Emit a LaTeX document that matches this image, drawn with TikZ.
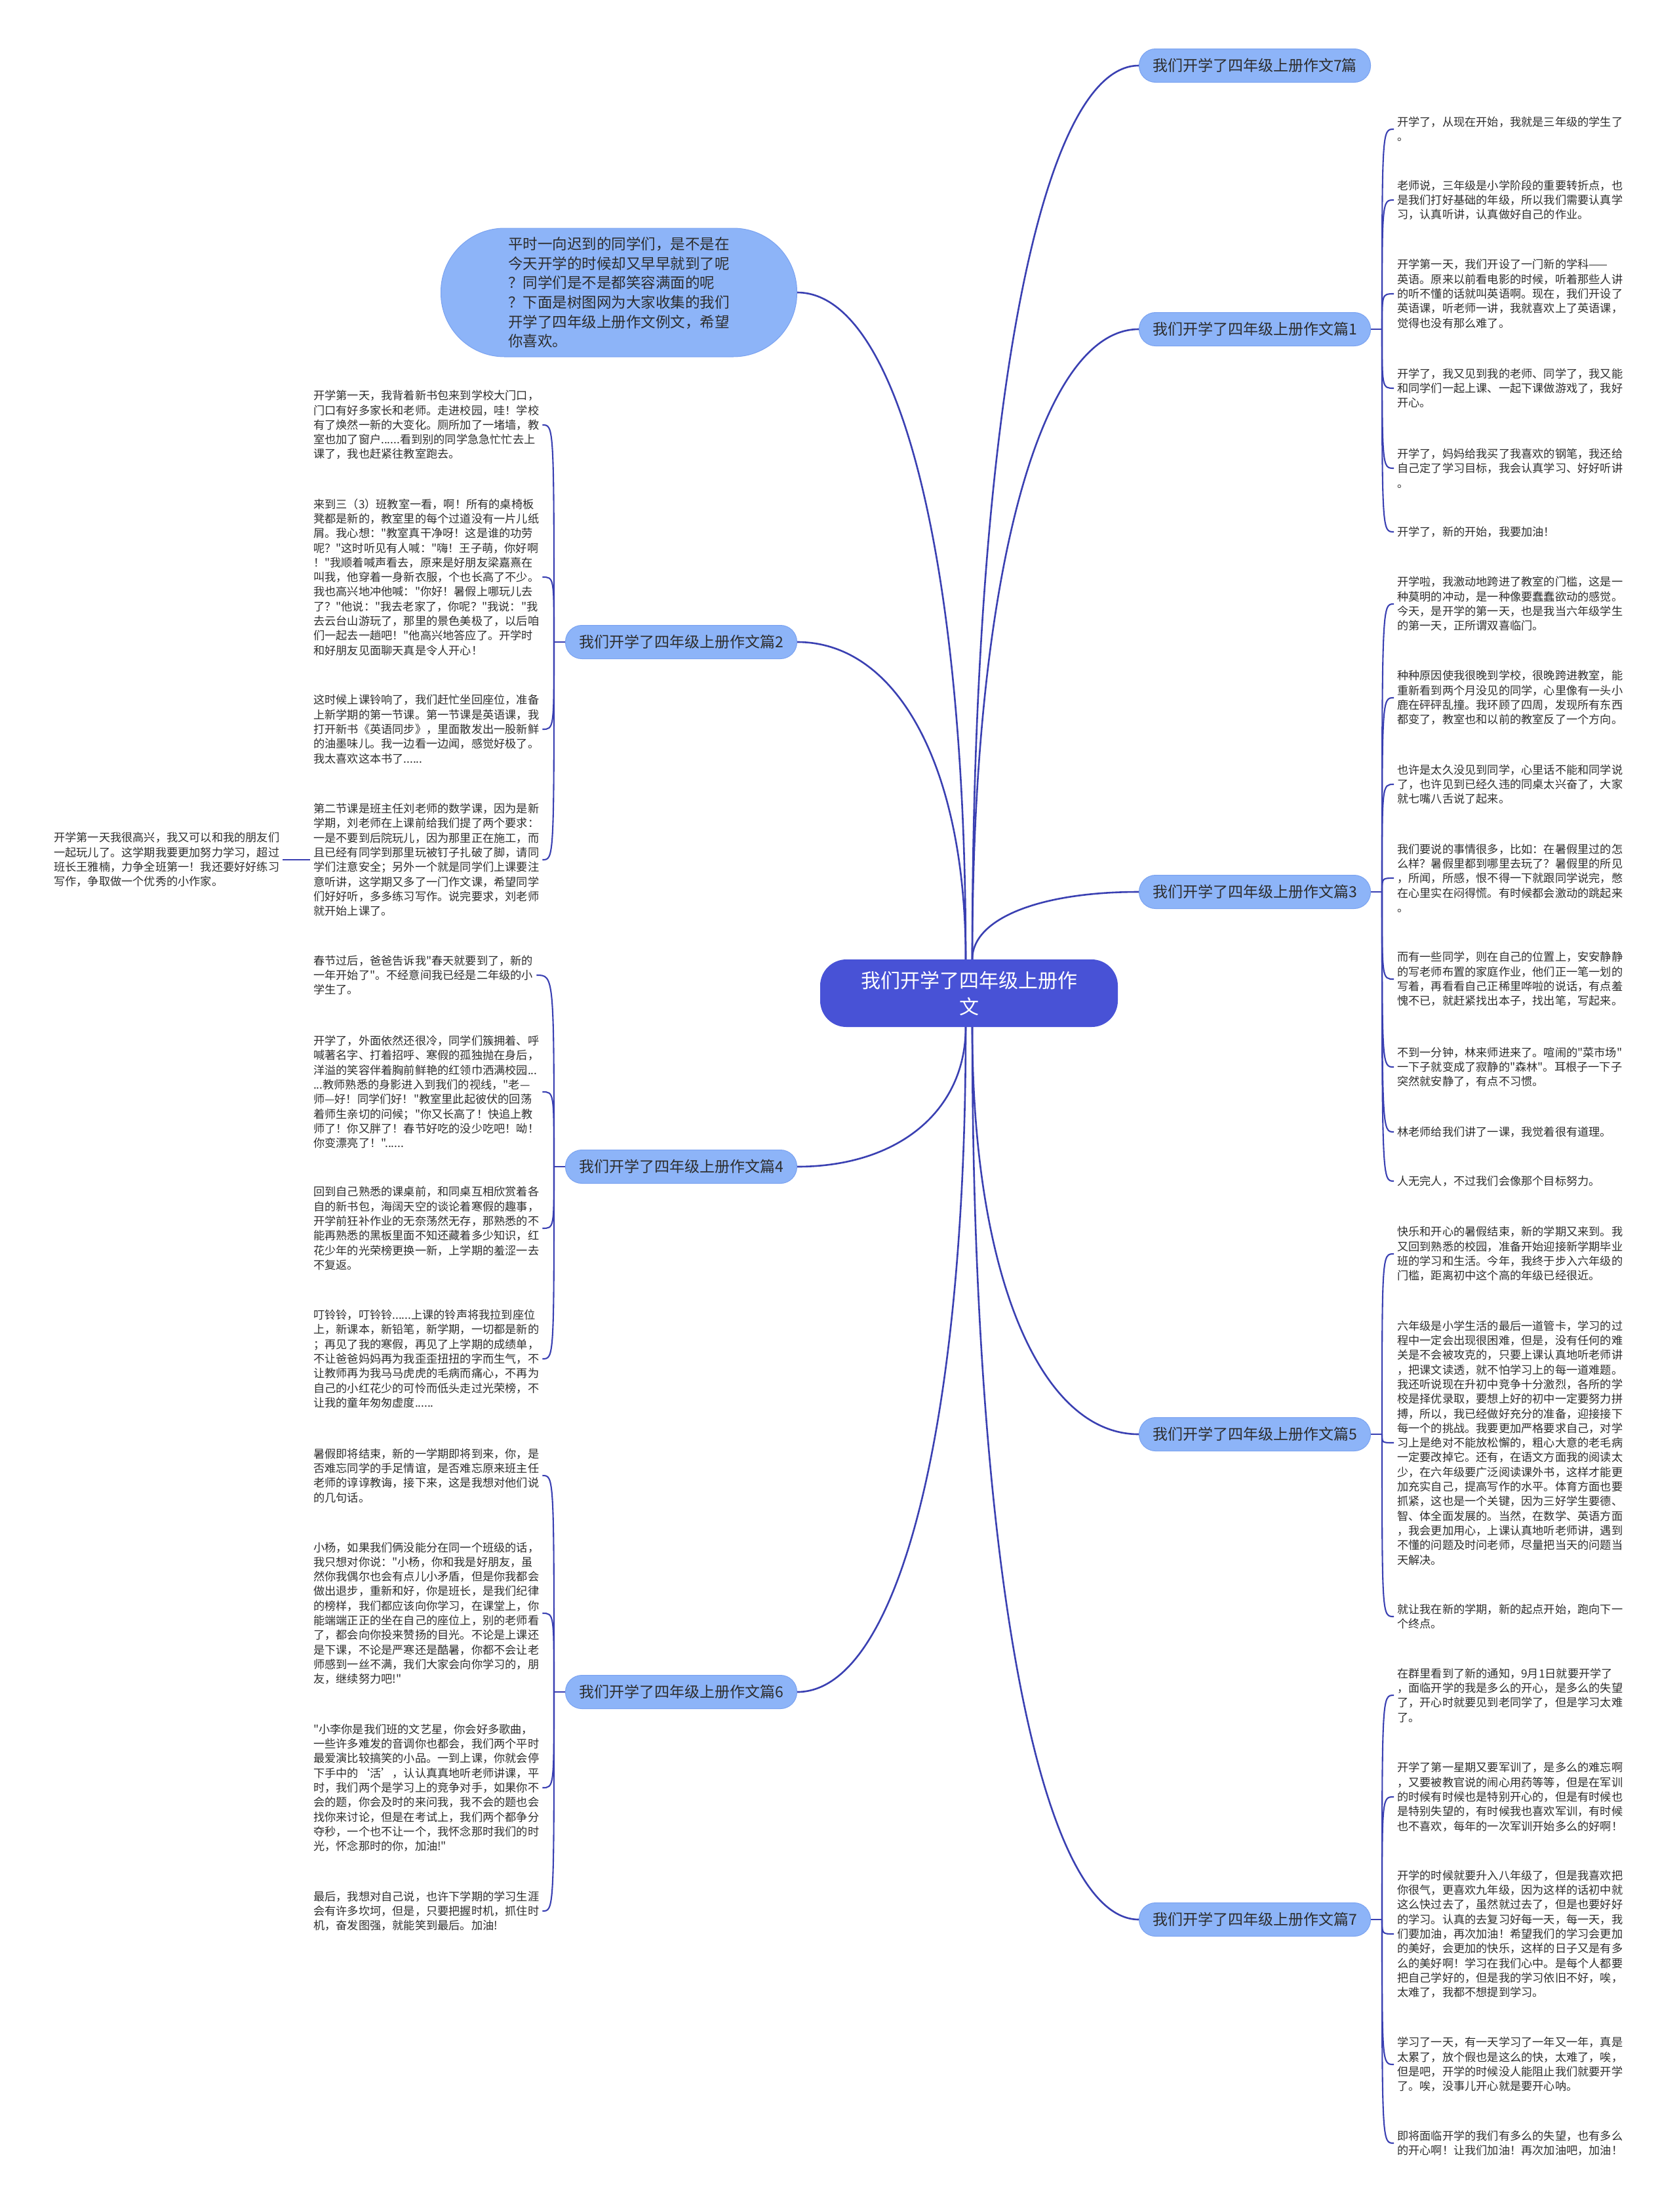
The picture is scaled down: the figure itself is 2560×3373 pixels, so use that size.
\documentclass[tikz,border=0pt]{standalone}
\usepackage{fontspec}
\setmainfont{Noto Sans CJK SC}[Ligatures=TeXOff]
\usepackage{tikz}
\usetikzlibrary{calc}
\definecolor{deep}{RGB}{72,82,214}
\definecolor{pale}{RGB}{141,180,248}
\definecolor{rim}{RGB}{122,162,240}
\definecolor{edge}{RGB}{58,64,178}
\definecolor{ink}{RGB}{45,45,45}
\tikzset{
  root/.style={fill=deep,text=white,rounded corners=40pt,align=center,font=\fontsize{30}{40}\selectfont,minimum width=454pt,minimum height=103pt,inner sep=0pt},
  branch/.style={fill=pale,draw=rim,line width=1pt,rounded corners=25pt,text=ink,font=\fontsize{23}{28}\selectfont,minimum width=353pt,minimum height=51pt,inner sep=4pt},
  bubble/.style={fill=pale,draw=rim,line width=1pt,rounded corners=97pt,text=ink,align=left,font=\fontsize{22.5}{29.7}\selectfont,minimum width=543pt,minimum height=196pt,inner sep=4pt},
  leaf/.style={align=left,text=ink,font=\fontsize{17.2}{22.3}\selectfont,inner sep=5pt},
  link/.style={draw=edge,line width=2.6pt},
  twig/.style={draw=edge,line width=2.1pt}
}

\begin{document}
\begin{tikzpicture}[x=1pt,y=-1pt]
\useasboundingbox (0,0) rectangle (2560,3373);
\node[root] (root) at (1478,1514.5) {我们开学了四年级上册作\\文};
% right branches
\foreach \n/\y/\t in {p7top/100/我们开学了四年级上册作文7篇,p1/502/我们开学了四年级上册作文篇1,p3/1360/我们开学了四年级上册作文篇3,p5/2187/我们开学了四年级上册作文篇5,p7/2927/我们开学了四年级上册作文篇7}
  \node[branch,anchor=west] (\n) at (1737,\y) {\t};
% left branches
\foreach \n/\y/\t in {p2/979/我们开学了四年级上册作文篇2,p4/1779/我们开学了四年级上册作文篇4,p6/2580/我们开学了四年级上册作文篇6}
  \node[branch,anchor=east] (\n) at (1216,\y) {\t};
\node[bubble,anchor=east] (intro) at (1216,446) {平时一向迟到的同学们，是不是在\\今天开学的时候却又早早就到了呢\\？同学们是不是都笑容满面的呢\\？下面是树图网为大家收集的我们\\开学了四年级上册作文例文，希望\\你喜欢。};

% right leaves
\foreach \n/\y/\t in {
  p1a/197/{开学了，从现在开始，我就是三年级的学生了\\。},
  p1b/305/{老师说，三年级是小学阶段的重要转折点，也\\是我们打好基础的年级，所以我们需要认真学\\习，认真听讲，认真做好自己的作业。},
  p1c/448/{开学第一天，我们开设了一门新的学科——\\英语。原来以前看电影的时候，听着那些人讲\\的听不懂的话就叫英语啊。现在，我们开设了\\英语课，听老师一讲，我就喜欢上了英语课，\\觉得也没有那么难了。},
  p1d/592/{开学了，我又见到我的老师、同学了，我又能\\和同学们一起上课、一起下课做游戏了，我好\\开心。},
  p1e/714/{开学了，妈妈给我买了我喜欢的钢笔，我还给\\自己定了学习目标，我会认真学习、好好听讲\\。},
  p1f/811/{开学了，新的开始，我要加油！},
  p3a/921/{开学啦，我激动地跨进了教室的门槛，这是一\\种莫明的冲动，是一种像要蠢蠢欲动的感觉。\\今天，是开学的第一天，也是我当六年级学生\\的第一天，正所谓双喜临门。},
  p3b/1064/{种种原因使我很晚到学校，很晚跨进教室，能\\重新看到两个月没见的同学，心里像有一头小\\鹿在砰砰乱撞。我环顾了四周，发现所有东西\\都变了，教室也和以前的教室反了一个方向。},
  p3c/1196/{也许是太久没见到同学，心里话不能和同学说\\了，也许见到已经久违的同桌太兴奋了，大家\\就七嘴八舌说了起来。},
  p3d/1339/{我们要说的事情很多，比如：在暑假里过的怎\\么样？暑假里都到哪里去玩了？暑假里的所见\\，所闻，所感，恨不得一下就跟同学说完，憋\\在心里实在闷得慌。有时候都会激动的跳起来\\。},
  p3e/1493/{而有一些同学，则在自己的位置上，安安静静\\的写老师布置的家庭作业，他们正一笔一划的\\写着，再看看自己正稀里哗啦的说话，有点羞\\愧不已，就赶紧找出本子，找出笔，写起来。},
  p3f/1627/{不到一分钟，林来师进来了。喧闹的"菜市场"\\一下子就变成了寂静的"森林"。耳根子一下子\\突然就安静了，有点不习惯。},
  p3g/1726/{林老师给我们讲了一课，我觉着很有道理。},
  p3h/1801/{人无完人，不过我们会像那个目标努力。},
  p5a/1912/{快乐和开心的暑假结束，新的学期又来到。我\\又回到熟悉的校园，准备开始迎接新学期毕业\\班的学习和生活。今年，我终于步入六年级的\\门槛，距离初中这个高的年级已经很近。},
  p5b/2200/{六年级是小学生活的最后一道管卡，学习的过\\程中一定会出现很困难，但是，没有任何的难\\关是不会被攻克的，只要上课认真地听老师讲\\，把课文读透，就不怕学习上的每一道难题。\\我还听说现在升初中竞争十分激烈，各所的学\\校是择优录取，要想上好的初中一定要努力拼\\搏，所以，我已经做好充分的准备，迎接接下\\每一个的挑战。我要更加严格要求自己，对学\\习上是绝对不能放松懈的，粗心大意的老毛病\\一定要改掉它。还有，在语文方面我的阅读太\\少，在六年级要广泛阅读课外书，这样才能更\\加充实自己，提高写作的水平。体育方面也要\\抓紧，这也是一个关键，因为三好学生要德、\\智、体全面发展的。当然，在数学、英语方面\\，我会更加用心，上课认真地听老师讲，遇到\\不懂的问题及时问老师，尽量把当天的问题当\\天解决。},
  p5c/2465/{就让我在新的学期，新的起点开始，跑向下一\\个终点。},
  p7a/2585/{在群里看到了新的通知，9月1日就要开学了\\，面临开学的我是多么的开心，是多么的失望\\了，开心时就要见到老同学了，但是学习太难\\了。},
  p7b/2740/{开学了第一星期又要军训了，是多么的难忘啊\\，又要被教官说的闹心用药等等，但是在军训\\的时候有时候也是特别开心的，但是有时候也\\是特别失望的，有时候我也喜欢军训，有时候\\也不喜欢，每年的一次军训开始多么的好啊！},
  p7c/2949/{开学的时候就要升入八年级了，但是我喜欢把\\你很气，更喜欢九年级，因为这样的话初中就\\这么快过去了，虽然就过去了，但是也要好好\\的学习。认真的去复习好每一天，每一天，我\\们要加油，再次加油！希望我们的学习会更加\\的美好，会更加的快乐，这样的日子又是有多\\么的美好啊！学习在我们心中。是每个人都要\\把自己学好的，但是我的学习依旧不好，唉，\\太难了，我都不想提到学习。},
  p7d/3148/{学习了一天，有一天学习了一年又一年，真是\\太累了，放个假也是这么的快，太难了，唉，\\但是吧，开学的时候没人能阻止我们就要开学\\了。唉，没事儿开心就是要开心呐。},
  p7e/3268/{即将面临开学的我们有多么的失望，也有多么\\的开心啊！让我们加油！再次加油吧，加油！}}
  \node[leaf,anchor=west] (\n) at (2126,\y) {\t};

% left leaves
\foreach \n/\y/\t in {
  p2a/648/{开学第一天，我背着新书包来到学校大门口，\\门口有好多家长和老师。走进校园，哇！学校\\有了焕然一新的大变化。厕所加了一堵墙，教\\室也加了窗户......看到别的同学急急忙忙去上\\课了，我也赶紧往教室跑去。},
  p2b/880/{来到三（3）班教室一看，啊！所有的桌椅板\\凳都是新的，教室里的每个过道没有一片儿纸\\屑。我心想："教室真干净呀！这是谁的功劳\\呢？"这时听见有人喊："嗨！王子萌，你好啊\\！"我顺着喊声看去，原来是好朋友梁嘉熹在\\叫我，他穿着一身新衣服，个也长高了不少。\\我也高兴地冲他喊："你好！暑假上哪玩儿去\\了？"他说："我去老家了，你呢？"我说："我\\去云台山游玩了，那里的景色美极了，以后咱\\们一起去一趟吧！"他高兴地答应了。开学时\\和好朋友见面聊天真是令人开心！},
  p2c/1112/{这时候上课铃响了，我们赶忙坐回座位，准备\\上新学期的第一节课。第一节课是英语课，我\\打开新书《英语同步》，里面散发出一股新鲜\\的油墨味儿。我一边看一边闻，感觉好极了。\\我太喜欢这本书了......},
  p2d/1311/{第二节课是班主任刘老师的数学课，因为是新\\学期，刘老师在上课前给我们提了两个要求：\\一是不要到后院玩儿，因为那里正在施工，而\\且已经有同学到那里玩被钉子扎破了脚，请同\\学们注意安全；另外一个就是同学们上课要注\\意听讲，这学期又多了一门作文课，希望同学\\们好好听，多多练习写作。说完要求，刘老师\\就开始上课了。},
  p4a/1487/{春节过后，爸爸告诉我"春天就要到了，新的\\一年开始了"。不经意间我已经是二年级的小\\学生了。},
  p4b/1665/{开学了，外面依然还很冷，同学们簇拥着、呼\\喊著名字、打着招呼、寒假的孤独抛在身后，\\洋溢的笑容伴着胸前鲜艳的红领巾洒满校园...\\...教师熟悉的身影进入到我们的视线，"老—\\师—好！同学们好！"教室里此起彼伏的回荡\\着师生亲切的问候；"你又长高了！快追上教\\师了！你又胖了！春节好吃的没少吃吧！呦！\\你变漂亮了！"......},
  p4c/1873/{回到自己熟悉的课桌前，和同桌互相欣赏着各\\自的新书包，海阔天空的谈论着寒假的趣事，\\开学前狂补作业的无奈荡然无存，那熟悉的不\\能再熟悉的黑板里面不知还藏着多少知识，红\\花少年的光荣榜更换一新，上学期的羞涩一去\\不复返。},
  p4d/2072/{叮铃铃，叮铃铃......上课的铃声将我拉到座位\\上，新课本，新铅笔，新学期，一切都是新的\\；再见了我的寒假，再见了上学期的成绩单，\\不让爸爸妈妈再为我歪歪扭扭的字而生气，不\\让教师再为我马马虎虎的毛病而痛心，不再为\\自己的小红花少的可怜而低头走过光荣榜，不\\让我的童年匆匆虚度......},
  p6a/2250/{暑假即将结束，新的一学期即将到来，你，是\\否难忘同学的手足情谊，是否难忘原来班主任\\老师的谆谆教诲，接下来，这是我想对他们说\\的几句话。},
  p6b/2460/{小杨，如果我们俩没能分在同一个班级的话，\\我只想对你说："小杨，你和我是好朋友，虽\\然你我偶尔也会有点儿小矛盾，但是你我都会\\做出退步，重新和好，你是班长，是我们纪律\\的榜样，我们都应该向你学习，在课堂上，你\\能端端正正的坐在自己的座位上，别的老师看\\了，都会向你投来赞扬的目光。不论是上课还\\是下课，不论是严寒还是酷暑，你都不会让老\\师感到一丝不满，我们大家会向你学习的，朋\\友，继续努力吧!"},
  p6c/2726/{"小李你是我们班的文艺星，你会好多歌曲，\\一些许多难发的音调你也都会，我们两个平时\\最爱演比较搞笑的小品。一到上课，你就会停\\下手中的‘活’，认认真真地听老师讲课，平\\时，我们两个是学习上的竞争对手，如果你不\\会的题，你会及时的来问我，我不会的题也会\\找你来讨论，但是在考试上，我们两个都争分\\夺秒，一个也不让一个，我怀念那时我们的时\\光，怀念那时的你，加油!"},
  p6d/2914/{最后，我想对自己说，也许下学期的学习生涯\\会有许多坎坷，但是，只要把握时机，抓住时\\机，奋发图强，就能笑到最后。加油!}}
  \node[leaf,anchor=west] (\n) at (473,\y) {\t};
\node[leaf,anchor=west] (p2e) at (77,1311) {开学第一天我很高兴，我又可以和我的朋友们\\一起玩儿了。这学期我要更加努力学习，超过\\班长王雅楠，力争全班第一！我还要好好练习\\写作，争取做一个优秀的小作家。};

% root to branches
\coordinate (rt) at ($(root.north)+(5,0)$);
\coordinate (lt) at ($(root.north)+(-5,0)$);
\coordinate (rb) at ($(root.south)+(5,0)$);
\coordinate (lb) at ($(root.south)+(-5,0)$);
\foreach \b in {p7top,p1,p3}
  \draw[link] (rt) .. controls ($(rt)!0.6!(rt |- \b.west)$) and ($(rt |- \b.west)!0.4!(\b.west)$) .. (\b.west);
\foreach \b in {p5,p7}
  \draw[link] (rb) .. controls ($(rb)!0.6!(rb |- \b.west)$) and ($(rb |- \b.west)!0.4!(\b.west)$) .. (\b.west);
\foreach \b in {intro,p2}
  \draw[link] (lt) .. controls ($(lt)!0.6!(lt |- \b.east)$) and ($(lt |- \b.east)!0.4!(\b.east)$) .. (\b.east);
\foreach \b in {p4,p6}
  \draw[link] (lb) .. controls ($(lb)!0.6!(lb |- \b.east)$) and ($(lb |- \b.east)!0.4!(\b.east)$) .. (\b.east);

% branches to leaves
\foreach \b/\list in {p1/{p1a,p1b,p1c,p1d,p1e,p1f},p3/{p3a,p3b,p3c,p3d,p3e,p3f,p3g,p3h},p5/{p5a,p5b,p5c},p7/{p7a,p7b,p7c,p7d,p7e}}{
  \coordinate (\b k) at ($(\b.east)+(17,0)$);
  \draw[twig] (\b.east) -- (\b k);
  \foreach \u in \list \draw[twig] (\b k) .. controls (\b k |- \u.west) .. (\u.west);
}
\foreach \b/\list in {p2/{p2a,p2b,p2c,p2d},p4/{p4a,p4b,p4c,p4d},p6/{p6a,p6b,p6c,p6d}}{
  \coordinate (\b k) at ($(\b.west)+(-17,0)$);
  \draw[twig] (\b.west) -- (\b k);
  \foreach \u in \list \draw[twig] (\b k) .. controls (\b k |- \u.east) .. (\u.east);
}
\draw[twig] (p2d.west) -- (p2e.east);
\end{tikzpicture}
\end{document}
